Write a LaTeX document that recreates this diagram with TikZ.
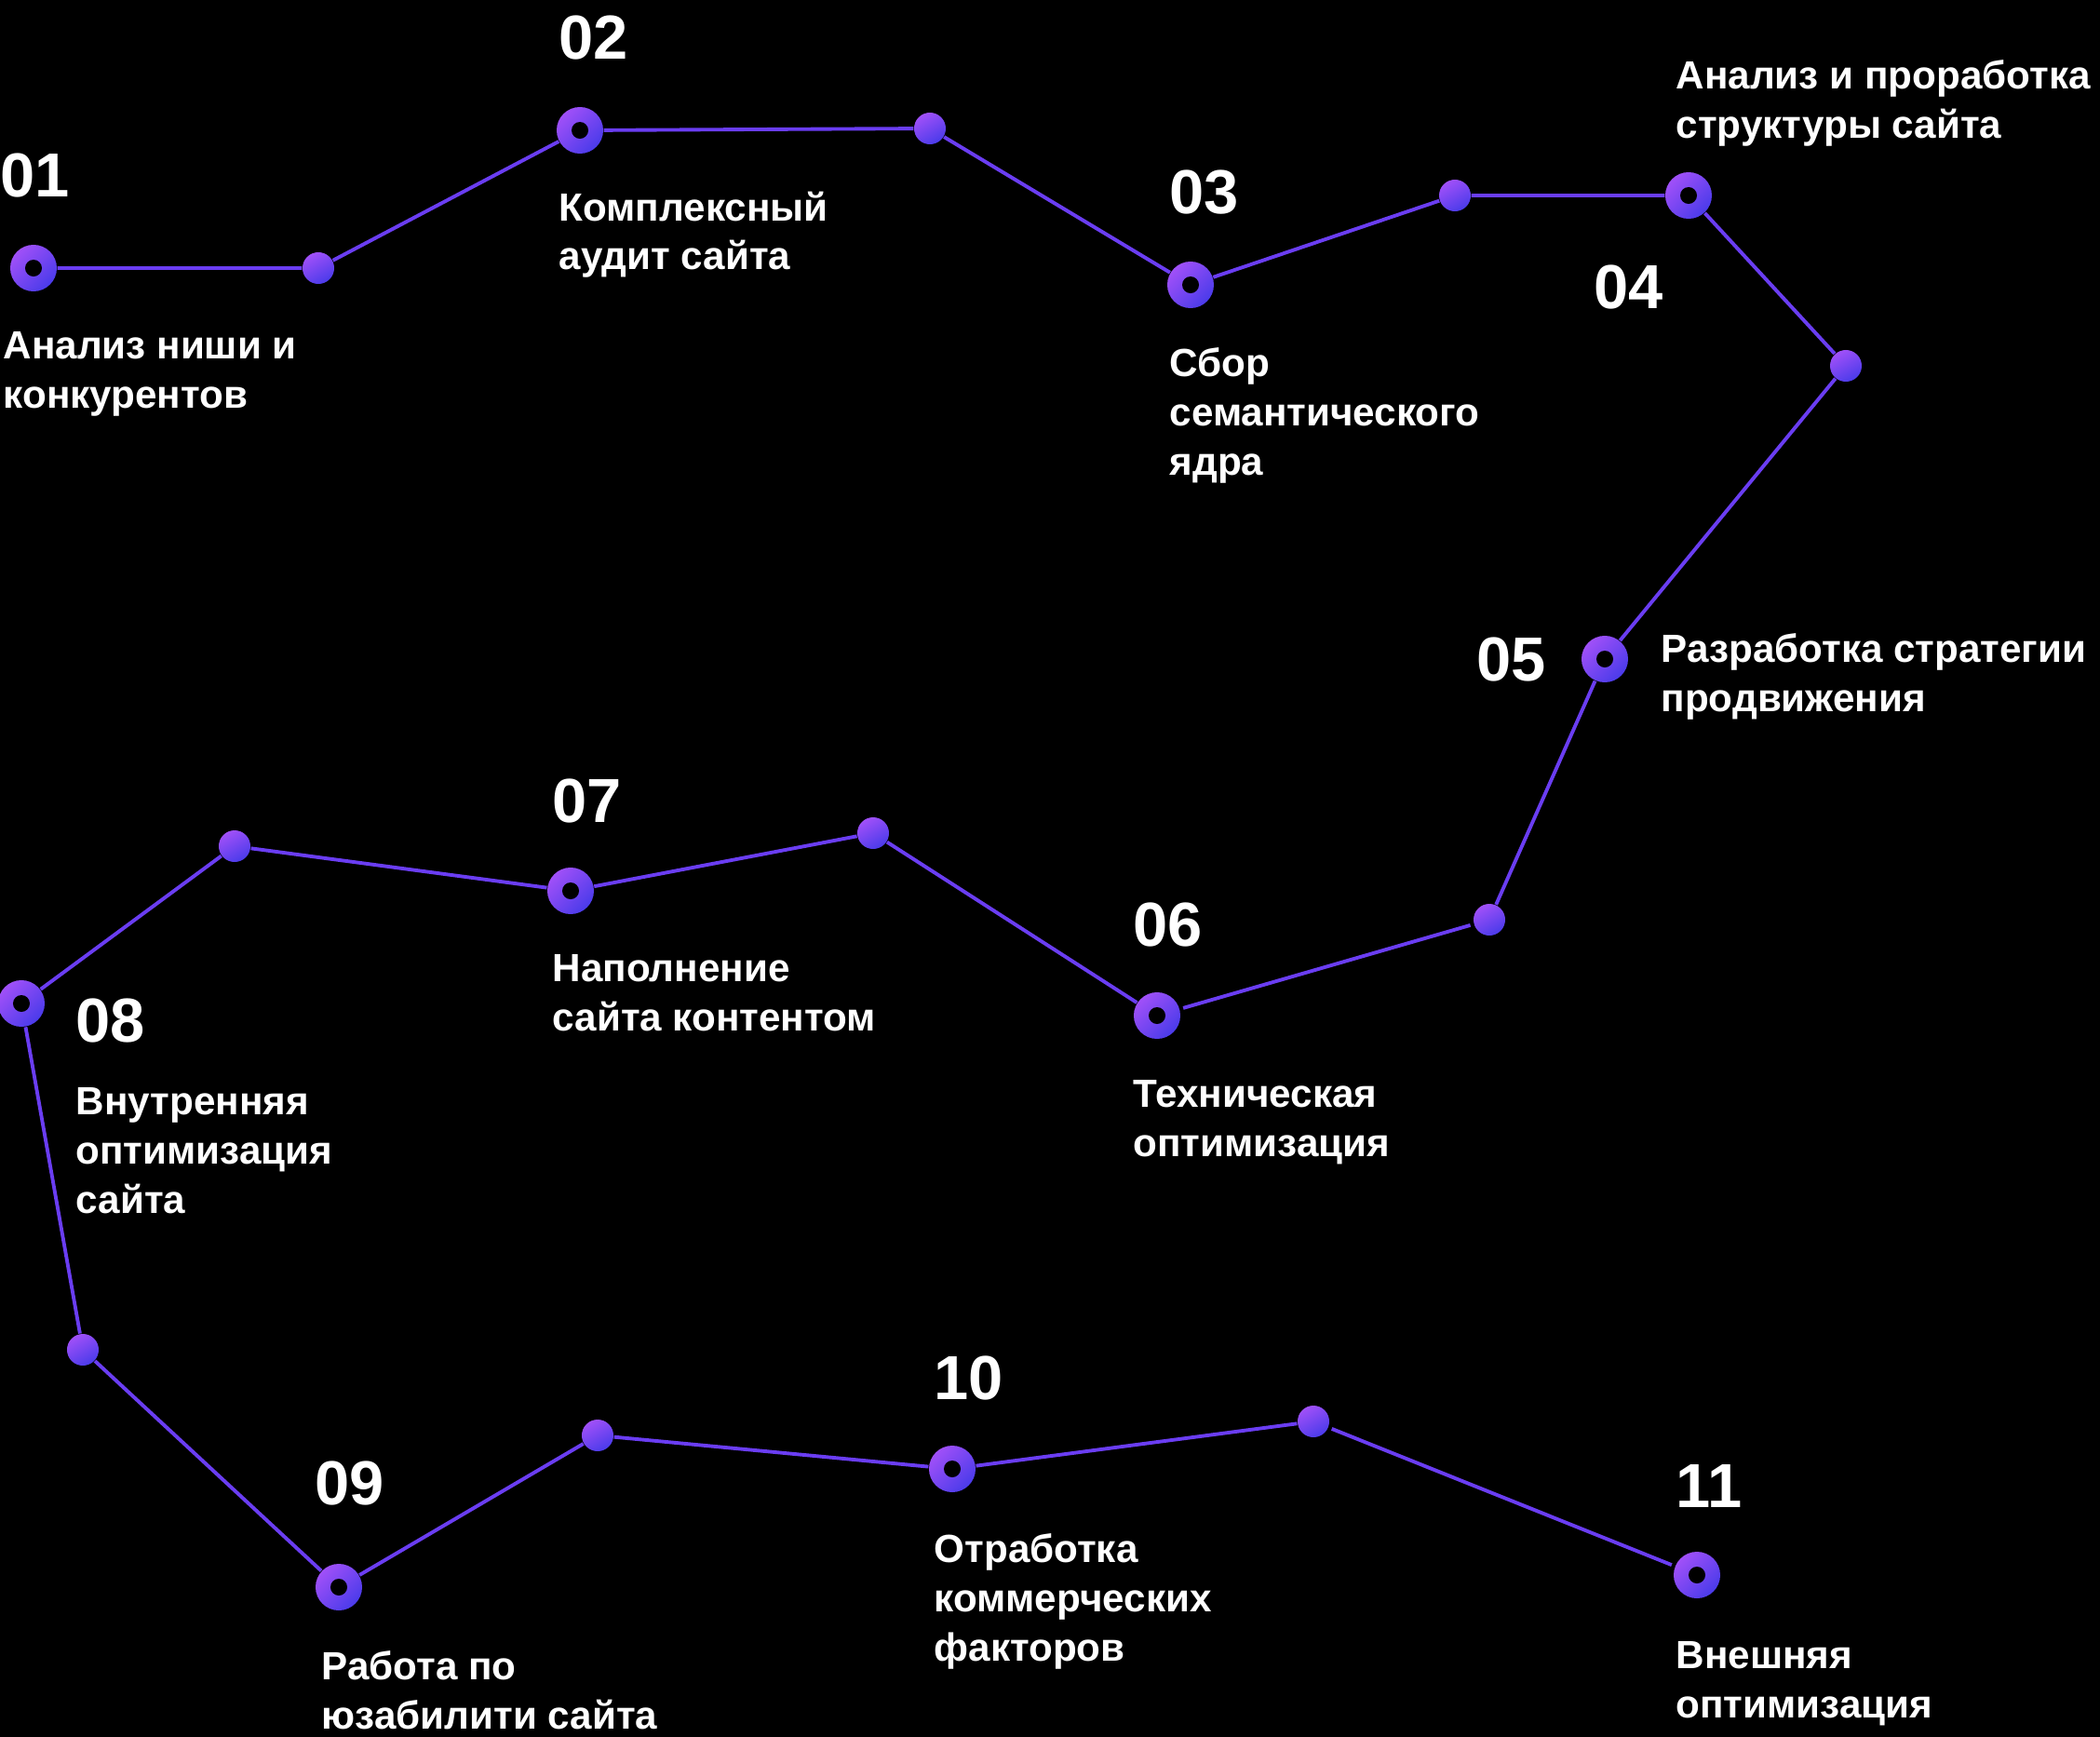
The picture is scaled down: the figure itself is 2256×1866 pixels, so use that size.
\documentclass[tikz,border=0pt]{standalone}
\usepackage{fontspec}
\setmainfont{Liberation Sans}
\usepackage{xcolor}
\definecolor{StepViolet}{HTML}{A050F8}
\definecolor{StepBlue}{HTML}{4A3BEA}
\definecolor{TrailViolet}{HTML}{6A3DF2}
\usetikzlibrary{positioning}

\tikzset{
  stepring/.style={circle, inner sep=0pt, minimum size=0.5cm,
    top color=StepViolet, bottom color=StepBlue, shading angle=45,
    path picture={\fill[black] (path picture bounding box.center) circle (0.09cm);}},
  knot/.style={circle, inner sep=0pt, minimum size=0.34cm,
    top color=StepViolet, bottom color=StepBlue, shading angle=30},
  stepnum/.style={anchor=west, inner sep=0pt, text=white,
    font=\fontsize{19}{19}\selectfont\bfseries},
  steplabel/.style={anchor=north west, inner sep=0pt, text=white, align=left,
    font=\fontsize{12}{15}\selectfont\bfseries},
  trail/.style={TrailViolet, line width=1.1pt, shorten <=1pt, shorten >=1pt}
}

\begin{document}
\begin{tikzpicture}[x=0.01cm, y=-0.01cm]
    \fill[black] (0,0) rectangle (2256,1866);
    \useasboundingbox (0,0) rectangle (2256,1866);

    % steps
    \node (s01) [stepring] at (36,288) {};
    \node (s02) [stepring] at (623,140) {};
    \node (s03) [stepring] at (1279,306) {};
    \node (s04) [stepring] at (1814,210) {};
    \node (s05) [stepring] at (1724,708) {};
    \node (s06) [stepring] at (1243,1091) {};
    \node (s07) [stepring] at (613,957) {};
    \node (s08) [stepring] at (23,1078) {};
    \node (s09) [stepring] at (364,1705) {};
    \node (s10) [stepring] at (1023,1578) {};
    \node (s11) [stepring] at (1823,1692) {};

    % knots of the trail
    \node (k1) [knot] at (342,288) {};
    \node (k2) [knot] at (999,138) {};
    \node (k3) [knot] at (1563,210) {};
    \node (k4) [knot] at (1983,393) {};
    \node (k5) [knot] at (1600,988) {};
    \node (k6) [knot] at (938,895) {};
    \node (k7) [knot] at (252,909) {};
    \node (k8) [knot] at (89,1450) {};
    \node (k9) [knot] at (642,1542) {};
    \node (k10) [knot] at (1411,1527) {};

    \draw[trail] (s01) -- (k1) -- (s02) -- (k2) -- (s03) -- (k3) -- (s04) -- (k4) -- (s05) -- (k5) -- (s06);
    \draw[trail] (s06) -- (k6) -- (s07) -- (k7) -- (s08) -- (k8) -- (s09) -- (k9) -- (s10) -- (k10) -- (s11);

    % numbers
    \node (n01) [stepnum] at (0,188) {01};
    \node (n02) [stepnum] at (600,40) {02};
    \node (n03) [stepnum] at (1256,207) {03};
    \node (n04) [stepnum] at (1712,308) {04};
    \node (n05) [stepnum] at (1586,708) {05};
    \node (n06) [stepnum] at (1217,993) {06};
    \node (n07) [stepnum] at (593,860) {07};
    \node (n08) [stepnum] at (81,1096) {08};
    \node (n09) [stepnum] at (338,1593) {09};
    \node (n10) [stepnum] at (1003,1480) {10};
    \node (n11) [stepnum] at (1800,1597) {11};

    % texts
    \node (t01) [steplabel] at (3,356) {Анализ ниши и\\конкурентов};
    \node (t02) [steplabel] at (600,205) {Комплексный\\аудит сайта};
    \node (t03) [steplabel] at (1256,373) {Сбор\\семантического\\ядра};
    \node (t04) [steplabel] at (1800,64) {Анализ и проработка\\структуры сайта};
    \node (t05) [steplabel] at (1784,680) {Разработка стратегии\\продвижения};
    \node (t06) [steplabel] at (1217,1160) {Техническая\\оптимизация};
    \node (t07) [steplabel] at (593,1025) {Наполнение\\сайта контентом};
    \node (t08) [steplabel] at (81,1168) {Внутренняя\\оптимизация\\сайта};
    \node (t09) [steplabel] at (345,1773) {Работа по\\юзабилити сайта};
    \node (t10) [steplabel] at (1003,1647) {Отработка\\коммерческих\\факторов};
    \node (t11) [steplabel] at (1800,1763) {Внешняя\\оптимизация};
\end{tikzpicture}
\end{document}
